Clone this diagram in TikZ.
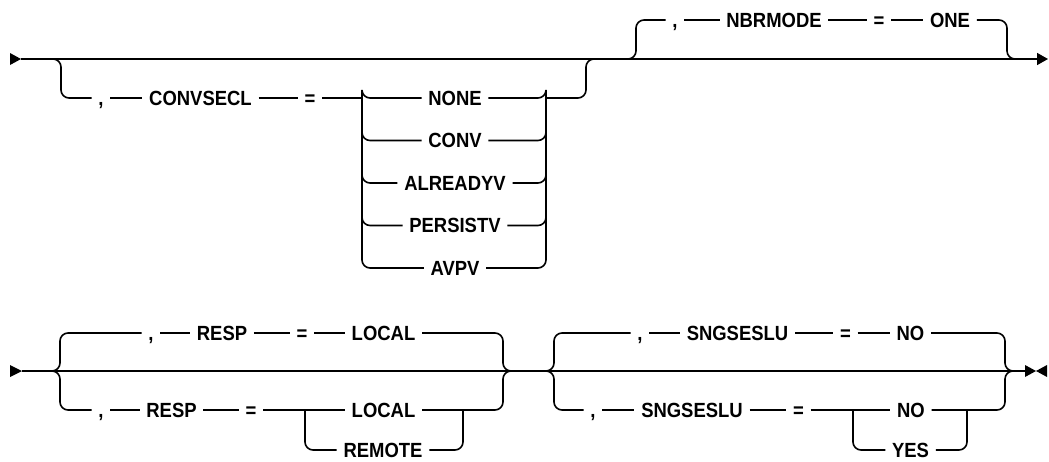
\documentclass[tikz,border=0pt]{standalone}
\usepackage{fontspec}
\setmainfont{Liberation Sans}
\newfontfamily\railfont[FakeStretch=0.9]{Liberation Sans}
\usetikzlibrary{arrows.meta}

\tikzset{every picture/.style={line width=1.6pt}}
\tikzset{
  kw/.style={font=\railfont\bfseries\fontsize{20.5}{20.5}\selectfont, inner xsep=6pt, inner ysep=0pt, text height=14.7pt, text depth=0pt},
  rail/.style={rounded corners=8pt},
  endtip/.style={-{Triangle[length=11pt,width=12pt]}},
}

\begin{document}
\begin{tikzpicture}[x=1pt,y=1pt,yscale=-1,xscale=1]
\useasboundingbox (0,0) rectangle (1049,461);

%Shape: first rail [id:top]
\coordinate (s1) at (21,59);
\coordinate (e1) at (1048,59);
\fill (10,53) -- (21,59) -- (10,65) -- cycle;
\draw [endtip] (s1) -- (e1);

% Text Node
\node [kw] (cvcomma) at (101,98) {,};
\node [kw] (cvkey) at (200.5,98) {CONVSECL};
\node [kw] (cveq) at (310,98) {=};
\coordinate (cvL) at (52,59);
\coordinate (cvR) at (595,59);
\coordinate (cvchL) at (362,98);
\coordinate (cvchR) at (546,98);
%Shape: CONVSECL branch
\draw [rail] (cvL) -| ++(9,39) -- (cvcomma.west);
\draw (cvcomma.east) -- (cvkey.west) (cvkey.east) -- (cveq.west) (cveq.east) -- (cvchL);
\foreach \opt/\nm [count=\i from 0] in {NONE/none, CONV/conv, ALREADYV/alreadyv, PERSISTV/persistv, AVPV/avpv} {
  \node [kw] (\nm) at (455,98+42.5*\i) {\opt};
  \draw [rail] (cvchL) |- (\nm.west);
  \draw [rail] (\nm.east) -| (cvchR);
}
\draw [rail] (cvchR) -| ([xshift=-9pt]cvR) -- (cvR);

% Text Node
\node [kw] (nbcomma) at (675,20) {,};
\node [kw] (nbkey) at (774,20) {NBRMODE};
\node [kw] (nbeq) at (879,20) {=};
\node [kw] (nbone) at (950,20) {ONE};
\coordinate (nbL) at (627,59);
\coordinate (nbR) at (1015,59);
%Shape: NBRMODE branch
\draw [rail] (nbL) -| ++(9,-39) -- (nbcomma.west);
\draw (nbcomma.east) -- (nbkey.west) (nbkey.east) -- (nbeq.west) (nbeq.east) -- (nbone.west);
\draw [rail] (nbone.east) -| ([xshift=-8pt]nbR) -- (nbR);

%Shape: second rail [id:bottom]
\coordinate (s2) at (22,371);
\coordinate (e2) at (1025,371);
\fill (10,365) -- (22,371) -- (10,377) -- cycle;
\draw (s2) -- (e2);
\fill (1025,365) -- (1036,371) -- (1025,377) -- cycle;
\fill (1047,365) -- (1036,371) -- (1047,377) -- cycle;

% Text Node
\node [kw] (rscomma1) at (151,333) {,};
\node [kw] (rskey1) at (222,333) {RESP};
\node [kw] (rseq1) at (302,333) {=};
\node [kw] (rsloc1) at (383.5,333) {LOCAL};
\node [kw] (rscomma2) at (101,410) {,};
\node [kw] (rskey2) at (171.5,410) {RESP};
\node [kw] (rseq2) at (251,410) {=};
\node [kw] (rsloc2) at (383.5,410) {LOCAL};
\node [kw] (rsrem) at (383,450) {REMOTE};
\coordinate (rsL) at (53,371);
\coordinate (rsR) at (511,371);
\coordinate (rschL) at (305,410);
\coordinate (rschR) at (463,410);
%Shape: RESP brace
\draw [rail] (rsL) -| ++(7,-38) -- (rscomma1.west);
\draw (rscomma1.east) -- (rskey1.west) (rskey1.east) -- (rseq1.west) (rseq1.east) -- (rsloc1.west);
\draw [rail] (rsloc1.east) -| ([xshift=-8pt]rsR) -- (rsR);
\draw [rail] (rsL) -| ++(7,39) -- (rscomma2.west);
\draw (rscomma2.east) -- (rskey2.west) (rskey2.east) -- (rseq2.west) (rseq2.east) -- (rschL) -- (rsloc2.west);
\draw [rail] (rsloc2.east) -| ([xshift=-8pt]rsR) -- (rsR);
\draw [rail] (rschL) |- (rsrem.west);
\draw [rail] (rsrem.east) -| (rschR);

% Text Node
\node [kw] (sgcomma1) at (640,333) {,};
\node [kw] (sgkey1) at (737.5,333) {SNGSESLU};
\node [kw] (sgeq1) at (845.5,333) {=};
\node [kw] (sgno1) at (910.5,333) {NO};
\node [kw] (sgcomma2) at (593,410) {,};
\node [kw] (sgkey2) at (692,410) {SNGSESLU};
\node [kw] (sgeq2) at (798.5,410) {=};
\node [kw] (sgno2) at (911,410) {NO};
\node [kw] (sgyes) at (910.5,450) {YES};
\coordinate (sgL) at (547,371);
\coordinate (sgR) at (1013,371);
\coordinate (sgchL) at (853,410);
\coordinate (sgchR) at (967,410);
%Shape: SNGSESLU brace
\draw [rail] (sgL) -| ++(7,-38) -- (sgcomma1.west);
\draw (sgcomma1.east) -- (sgkey1.west) (sgkey1.east) -- (sgeq1.west) (sgeq1.east) -- (sgno1.west);
\draw [rail] (sgno1.east) -| ([xshift=-8pt]sgR) -- (sgR);
\draw [rail] (sgL) -| ++(7,39) -- (sgcomma2.west);
\draw (sgcomma2.east) -- (sgkey2.west) (sgkey2.east) -- (sgeq2.west) (sgeq2.east) -- (sgchL) -- (sgno2.west);
\draw [rail] (sgno2.east) -| ([xshift=-8pt]sgR) -- (sgR);
\draw [rail] (sgchL) |- (sgyes.west);
\draw [rail] (sgyes.east) -| (sgchR);

\end{tikzpicture}
\end{document}
